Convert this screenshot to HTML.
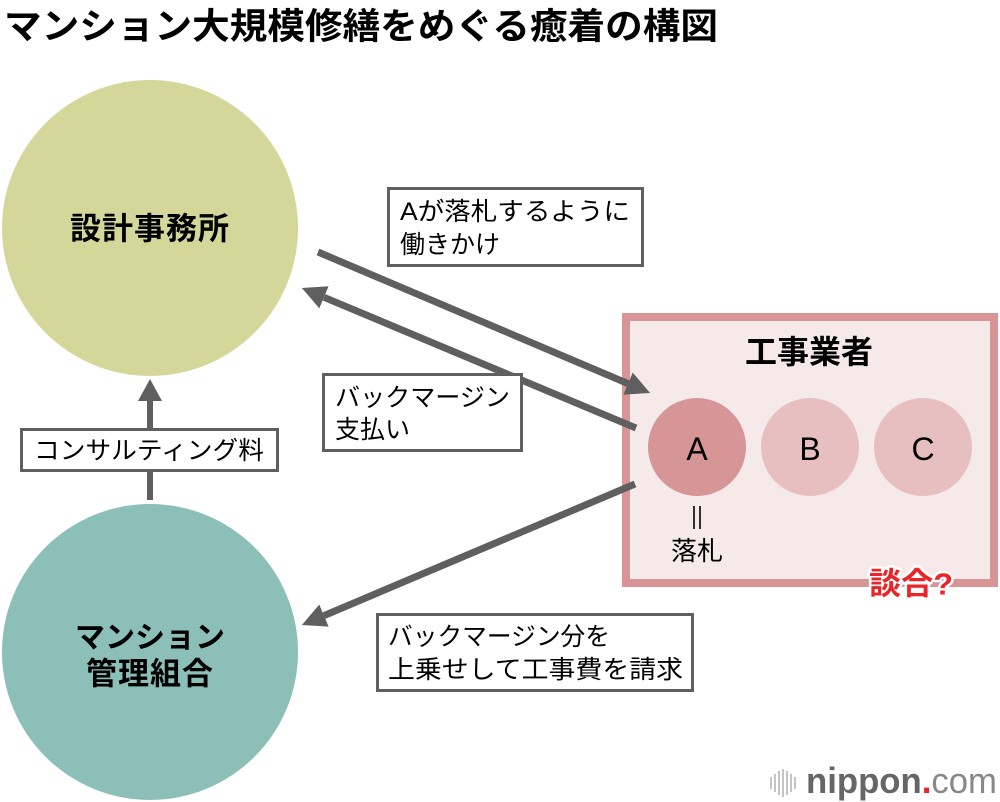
<!DOCTYPE html>
<html><head><meta charset="utf-8">
<style>
html,body{margin:0;padding:0;background:#fff;}
svg{display:block;}
text{font-family:"Liberation Sans","Noto Sans CJK JP",sans-serif;}
</style></head>
<body>
<svg width="1000" height="802" viewBox="0 0 1000 802" xmlns="http://www.w3.org/2000/svg">
<defs>
<marker id="ah" markerUnits="userSpaceOnUse" markerWidth="24" markerHeight="24" refX="0" refY="12" orient="auto">
<path d="M0,0 L24,12 L0,24 z" fill="#5f5f5f"/>
</marker>
</defs>

<!-- title -->
<text x="4" y="26" font-size="36" font-weight="bold" dominant-baseline="central" fill="#000" textLength="714" lengthAdjust="spacingAndGlyphs">マンション大規模修繕をめぐる癒着の構図</text>

<!-- circles -->
<circle cx="150" cy="228" r="148" fill="#d5d79a"/>
<circle cx="150" cy="652" r="148" fill="#8bbfb8"/>
<text x="150" y="229" font-size="31" font-weight="bold" text-anchor="middle" dominant-baseline="central" letter-spacing="1">設計事務所</text>
<text x="150" y="638" font-size="30" font-weight="bold" text-anchor="middle" dominant-baseline="central">マンション</text>
<text x="150" y="674" font-size="31" font-weight="bold" text-anchor="middle" dominant-baseline="central" letter-spacing="1">管理組合</text>

<!-- contractors box -->
<rect x="626" y="317" width="368" height="266" fill="#f5e9ea" stroke="#d79596" stroke-width="8"/>
<text x="809" y="352" font-size="32" font-weight="bold" text-anchor="middle" dominant-baseline="central">工事業者</text>
<circle cx="697" cy="447" r="49" fill="#d69596"/>
<circle cx="810" cy="447" r="49" fill="#e8bfc0"/>
<circle cx="923" cy="447" r="49" fill="#e8bfc0"/>
<text x="697" y="449" font-size="32" text-anchor="middle" dominant-baseline="central">A</text>
<text x="810" y="449" font-size="32" text-anchor="middle" dominant-baseline="central">B</text>
<text x="923" y="449" font-size="32" text-anchor="middle" dominant-baseline="central">C</text>
<line x1="694" y1="506" x2="694" y2="529" stroke="#000" stroke-width="1.6"/>
<line x1="700" y1="506" x2="700" y2="529" stroke="#000" stroke-width="1.6"/>
<text x="697" y="551" font-size="26" text-anchor="middle" dominant-baseline="central">落札</text>
<text x="911" y="584" font-size="31" font-weight="bold" text-anchor="middle" dominant-baseline="central" fill="#e8262a" stroke="#fff" stroke-width="5" paint-order="stroke" stroke-linejoin="round" textLength="84" lengthAdjust="spacingAndGlyphs">談合?</text>

<!-- vertical arrow -->
<line x1="150" y1="500" x2="150" y2="400" stroke="#5f5f5f" stroke-width="6"/>
<path d="M138,401 L150,379 L162,401 z" fill="#5f5f5f"/>
<rect x="21.5" y="429.5" width="256" height="41" fill="#fff" stroke="#5f5f5f" stroke-width="3"/>
<text x="149" y="451" font-size="25" text-anchor="middle" dominant-baseline="central" textLength="230" lengthAdjust="spacingAndGlyphs">コンサルティング料</text>

<!-- diagonal arrows -->
<line x1="318" y1="252" x2="628" y2="383.6" stroke="#5f5f5f" stroke-width="7" marker-end="url(#ah)"/>
<line x1="636" y1="428" x2="324" y2="297.3" stroke="#5f5f5f" stroke-width="7" marker-end="url(#ah)"/>
<line x1="635" y1="484" x2="324" y2="615.6" stroke="#5f5f5f" stroke-width="7" marker-end="url(#ah)"/>

<!-- label boxes -->
<rect x="388.5" y="188.5" width="254" height="77" fill="#fff" stroke="#5f5f5f" stroke-width="3"/>
<text x="400" y="212" font-size="25" dominant-baseline="central" textLength="230" lengthAdjust="spacingAndGlyphs">Aが落札するように</text>
<text x="400" y="245" font-size="25" dominant-baseline="central">働きかけ</text>

<rect x="323.5" y="374.5" width="198" height="76" fill="#fff" stroke="#5f5f5f" stroke-width="3"/>
<text x="335" y="398" font-size="25" dominant-baseline="central" textLength="175" lengthAdjust="spacingAndGlyphs">バックマージン</text>
<text x="335" y="430" font-size="25" dominant-baseline="central">支払い</text>

<rect x="377.5" y="614.5" width="315" height="76" fill="#fff" stroke="#5f5f5f" stroke-width="3"/>
<text x="388" y="637" font-size="25" dominant-baseline="central" textLength="222" lengthAdjust="spacingAndGlyphs">バックマージン分を</text>
<text x="388" y="670" font-size="25" dominant-baseline="central" textLength="295" lengthAdjust="spacingAndGlyphs">上乗せして工事費を請求</text>

<!-- logo -->
<g fill="#c4c4c4">
<rect x="770" y="777" width="2" height="12"/>
<rect x="774" y="774" width="2" height="18"/>
<rect x="778" y="771" width="2" height="24"/>
<rect x="782" y="769" width="2" height="28"/>
<rect x="786" y="771" width="2" height="24"/>
<rect x="790" y="774" width="2" height="18"/>
<rect x="794" y="777" width="2" height="12"/>
</g>
<text x="806" y="793" font-size="36" textLength="191" lengthAdjust="spacingAndGlyphs"><tspan font-weight="bold" fill="#666">nippon</tspan><tspan fill="#e8262a" font-weight="bold">.</tspan><tspan fill="#888">com</tspan></text>
</svg>
</body></html>
